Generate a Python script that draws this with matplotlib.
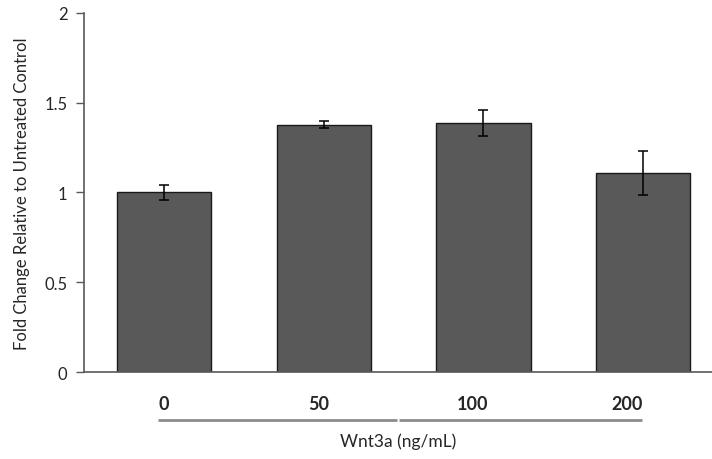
import matplotlib
matplotlib.use("Agg")
import matplotlib.pyplot as plt
import matplotlib.transforms as mtransforms

# data
doses = ["0", "50", "100", "200"]
fold_change = [1.00, 1.378, 1.386, 1.110]
err = [0.040, 0.020, 0.073, 0.122]

plt.rcParams['font.family'] = ['Lato', 'DejaVu Sans']

fig = plt.figure(figsize=(7.12, 4.60), dpi=100)
ax = fig.add_axes([0.118, 0.189, 0.882, 0.781])

x = list(range(len(doses)))
ax.bar(x, fold_change, width=0.59, color='#595959', edgecolor='#1a1a1a', linewidth=1.0,
       yerr=err, error_kw=dict(ecolor='black', elinewidth=1.1, capsize=3.4, capthick=1.1), zorder=2)

ax.set_xlim(-0.5, 3.43)
ax.set_ylim(0, 2)
ax.set_yticks([0, 0.5, 1, 1.5, 2])
ax.set_yticklabels(["0", "0.5", "1", "1.5", "2"], fontsize=12, color='#262626')
ax.tick_params(axis='y', direction='out', length=6, width=1, color='#595959', pad=6)

# Excel-style category labels (slightly compressed towards the left)
ax.set_xticks([])
trans = mtransforms.blended_transform_factory(ax.transData, ax.transAxes)
for i, lab in enumerate(doses):
    ax.text(i * 0.966, -0.087, lab, transform=trans, ha='center', va='center',
            fontsize=13, fontweight='bold', color='#262626')

for s in ['top', 'right']:
    ax.spines[s].set_visible(False)
ax.spines['left'].set_color('#595959')
ax.spines['bottom'].set_color('#595959')
ax.spines['left'].set_linewidth(1.2)
ax.spines['bottom'].set_linewidth(1.2)

ax.set_ylabel("Fold Change Relative to Untreated Control", fontsize=12, color='#262626', labelpad=10)

# grouping line under category labels
ax.plot([-0.034, 1.458], [-0.134, -0.134], transform=trans, color='#8c8c8c', lw=2, clip_on=False,
        solid_capstyle='butt')
ax.plot([1.472, 2.99], [-0.134, -0.134], transform=trans, color='#8c8c8c', lw=2, clip_on=False,
        solid_capstyle='butt')
ax.text(1.464, -0.19, "Wnt3a (ng/mL)", transform=trans, ha='center', va='center',
        fontsize=12.5, color='#262626')

fig.savefig("out.png", dpi=100)
